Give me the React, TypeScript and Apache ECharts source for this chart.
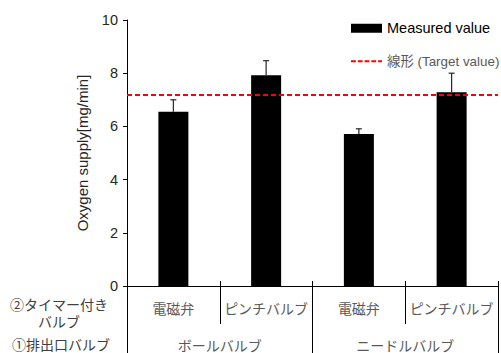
import React, { useEffect, useRef } from "react";
import * as echarts from "echarts";

const categories = ["電磁弁", "ピンチバルブ", "電磁弁", "ピンチバルブ"];
const groups = ["ボールバルブ", "ニードルバルブ"];
const measured = [6.55, 7.92, 5.71, 7.28];
const errorUpper = [7.0, 8.47, 5.91, 8.0];
const target = 7.2;
const yTicks = { min: 0, max: 10, interval: 2 };
const rowLabel2 = "②タイマー付き\nバルブ";
const rowLabel1 = "①排出口バルブ";
const barName = "Measured value";
const lineName = "線形 (Target value)";
const yName = "Oxygen supply[mg/min]";

const FONT = "Liberation Sans, Arial, Noto Sans CJK JP, sans-serif";
const DASH_ICON =
  "path://M0,0h5v2h-5zM7,0h5v2h-5zM14,0h5v2h-5zM21,0h5v2h-5zM28,0h4v2h-4z";

export default function App() {
  const ref = useRef<HTMLDivElement>(null);
  useEffect(() => {
    document.body.style.margin = "0";
    const chart = echarts.init(ref.current!, null, { renderer: "svg" });
    chart.setOption({
      animation: false,
      textStyle: { fontFamily: FONT },
      grid: { left: 127, right: 3, top: 20, bottom: 67, containLabel: false },
      legend: {
        orient: "vertical",
        left: 346,
        top: 16,
        itemWidth: 31,
        itemHeight: 9,
        itemGap: 19,
        symbolKeepAspect: true,
        textStyle: { fontSize: 14.5, color: "#000", fontFamily: FONT },
        data: [
          { name: barName, icon: "rect" },
          {
            name: lineName,
            icon: DASH_ICON,
            textStyle: { color: "#595959", fontSize: 13.4, fontFamily: FONT },
          },
        ],
      },
      xAxis: [
        {
          type: "category",
          data: categories,
          position: "bottom",
          axisLine: { show: true, lineStyle: { color: "#000", width: 1 } },
          axisTick: { show: true, interval: 0, length: 38, lineStyle: { color: "#000" } },
          axisLabel: { interval: 0, fontSize: 14, margin: 16, color: "#595959", fontFamily: FONT },
        },
        {
          type: "category",
          data: groups,
          position: "bottom",
          axisLine: { show: false },
          axisTick: { show: true, interval: 0, length: 70, lineStyle: { color: "#000" } },
          axisLabel: { interval: 0, fontSize: 14, margin: 53, color: "#595959", fontFamily: FONT },
        },
        {
          type: "category",
          data: categories,
          position: "bottom",
          axisLine: { show: false },
          axisTick: { show: true, inside: true, interval: 0, length: 5, lineStyle: { color: "#000" } },
          axisLabel: { show: false },
        },
      ],
      yAxis: {
        type: "value",
        min: yTicks.min,
        max: yTicks.max,
        interval: yTicks.interval,
        name: yName,
        nameLocation: "middle",
        nameRotate: 90,
        nameGap: 37,
        nameTextStyle: { fontSize: 15, color: "#262626", fontFamily: FONT },
        axisLine: { show: true, lineStyle: { color: "#000", width: 1 } },
        axisTick: { show: true, length: 4, lineStyle: { color: "#000" } },
        axisLabel: { fontSize: 14.5, color: "#262626", margin: 9, fontFamily: FONT },
        splitLine: { show: false },
      },
      series: [
        {
          name: barName,
          type: "bar",
          data: measured,
          barWidth: 30,
          itemStyle: { color: "#000" },
          z: 2,
        },
        {
          name: "error",
          type: "custom",
          data: categories.map((_, i) => [i, measured[i], errorUpper[i]]),
          encode: { x: 0, y: [1, 2] },
          z: 3,
          renderItem: (params: any, api: any) => {
            const i = api.value(0);
            const p0 = api.coord([i, api.value(1)]);
            const p1 = api.coord([i, api.value(2)]);
            const style = { stroke: "#262626", lineWidth: 1.2 };
            return {
              type: "group",
              children: [
                { type: "line", shape: { x1: p0[0], y1: p0[1], x2: p1[0], y2: p1[1] }, style },
                { type: "line", shape: { x1: p1[0] - 3, y1: p1[1], x2: p1[0] + 3, y2: p1[1] }, style },
              ],
            };
          },
        },
        {
          name: lineName,
          type: "line",
          data: [],
          symbol: "none",
          lineStyle: { color: "#ff0000", type: [5, 3], width: 2 },
          itemStyle: { color: "#ff0000" },
          markLine: {
            silent: true,
            symbol: "none",
            label: { show: false },
            lineStyle: { color: "#ff0000", type: [5, 3], width: 2 },
            data: [{ yAxis: target }],
          },
          z: 4,
        },
      ],
      graphic: [
        {
          type: "text",
          x: 59,
          y: 313.5,
          style: {
            text: rowLabel2,
            fontSize: 14,
            lineHeight: 17,
            fill: "#404040",
            align: "center",
            verticalAlign: "middle",
            fontFamily: FONT,
          },
        },
        {
          type: "text",
          x: 61,
          y: 345,
          style: {
            text: rowLabel1,
            fontSize: 14,
            fill: "#404040",
            align: "center",
            verticalAlign: "middle",
            fontFamily: FONT,
          },
        },
      ],
    });
    return () => chart.dispose();
  }, []);
  return <div ref={ref} style={{ width: 501, height: 353 }} />;
}
